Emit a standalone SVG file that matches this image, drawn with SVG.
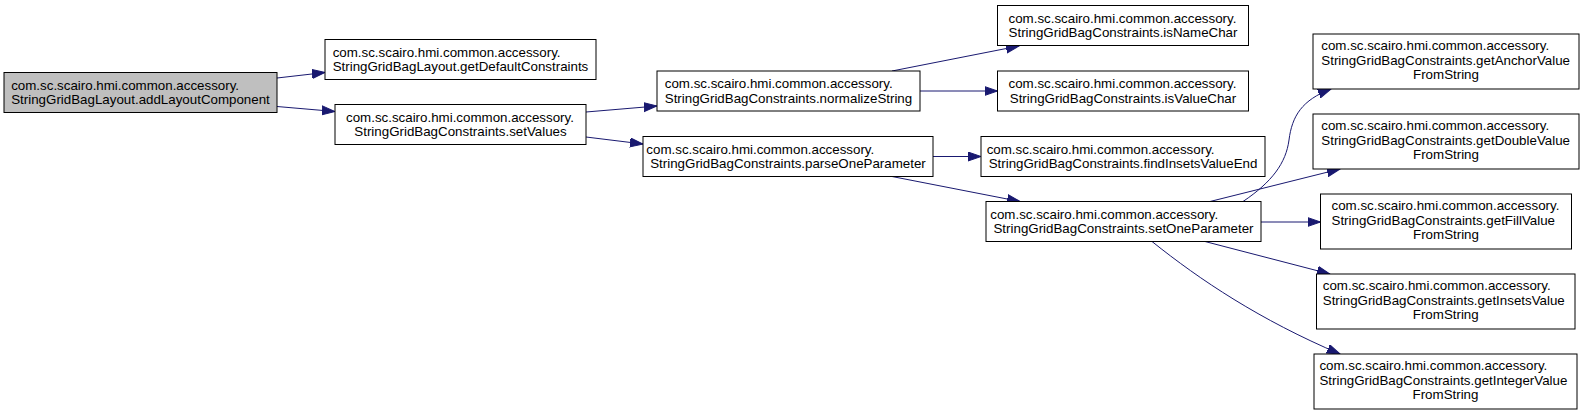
<svg xmlns="http://www.w3.org/2000/svg" width="1584" height="415" viewBox="0 0 1584 415">
<style>
  .node rect { fill: #ffffff; stroke: #000000; stroke-width: 1; }
  .root rect { fill: #bfbfbf; }
  .node text { font-family: "Liberation Sans", Arial, sans-serif; font-size: 13.33px; fill: #000000; }
  .c { text-anchor: middle; }
  .edge { fill: none; stroke: #191970; stroke-width: 1; marker-end: url(#arr); }
</style>
<defs>
  <marker id="arr" markerUnits="userSpaceOnUse" markerWidth="14" markerHeight="11" refX="13" refY="5" orient="auto">
    <path d="M0,0.5 L13,5 L0,9.5 Z" fill="#191970" stroke="#191970" stroke-width="1"/>
  </marker>
</defs>
<rect x="0" y="0" width="1584" height="415" fill="#ffffff"/>
<g id="edges">
  <path class="edge" d="M277,78 L325,72.5"/>
  <path class="edge" d="M277,106.5 L335,111.5"/>
  <path class="edge" d="M586,112 L657,106"/>
  <path class="edge" d="M586,137 L643,144"/>
  <path class="edge" d="M892,71 L1019,46"/>
  <path class="edge" d="M920,91 L997.5,91"/>
  <path class="edge" d="M933,156.5 L981,156.5"/>
  <path class="edge" d="M892,176.5 L1020,201.5"/>
  <path class="edge" d="M1243,201.5 C1272,182 1286,163 1289,140 C1292,116 1302,100 1331,89"/>
  <path class="edge" d="M1210,201.5 L1340,169"/>
  <path class="edge" d="M1261,222 L1320.5,222"/>
  <path class="edge" d="M1205,241.5 L1330,274"/>
  <path class="edge" d="M1152,241.5 C1200,280 1260,320 1340,354"/>
</g>
<g id="addLayoutComponent" class="node root">
  <rect x="4" y="72.5" width="273" height="40"/>
  <text x="11.2" y="89.5">com.sc.scairo.hmi.common.accessory.</text>
  <text class="c" x="140.5" y="104">StringGridBagLayout.addLayoutComponent</text>
</g>
<g id="getDefaultConstraints" class="node">
  <rect x="325" y="39.5" width="271" height="40"/>
  <text x="332.65" y="56.5">com.sc.scairo.hmi.common.accessory.</text>
  <text class="c" x="460.5" y="71">StringGridBagLayout.getDefaultConstraints</text>
</g>
<g id="setValues" class="node">
  <rect x="335" y="104.5" width="251" height="40"/>
  <text x="346" y="121.5">com.sc.scairo.hmi.common.accessory.</text>
  <text class="c" x="460.5" y="136">StringGridBagConstraints.setValues</text>
</g>
<g id="normalizeString" class="node">
  <rect x="657" y="71" width="263" height="40"/>
  <text x="664.75" y="88">com.sc.scairo.hmi.common.accessory.</text>
  <text class="c" x="788.5" y="102.5">StringGridBagConstraints.normalizeString</text>
</g>
<g id="parseOneParameter" class="node">
  <rect x="643" y="136.5" width="290" height="40"/>
  <text x="646.35" y="153.5">com.sc.scairo.hmi.common.accessory.</text>
  <text class="c" x="788" y="168">StringGridBagConstraints.parseOneParameter</text>
</g>
<g id="isNameChar" class="node">
  <rect x="997.5" y="5.5" width="251" height="40"/>
  <text x="1008.5" y="22.5">com.sc.scairo.hmi.common.accessory.</text>
  <text class="c" x="1123" y="37">StringGridBagConstraints.isNameChar</text>
</g>
<g id="isValueChar" class="node">
  <rect x="997.5" y="71" width="251" height="40"/>
  <text x="1008.5" y="88">com.sc.scairo.hmi.common.accessory.</text>
  <text class="c" x="1123" y="102.5">StringGridBagConstraints.isValueChar</text>
</g>
<g id="findInsetsValueEnd" class="node">
  <rect x="981" y="136.5" width="284" height="40"/>
  <text x="986.65" y="153.5">com.sc.scairo.hmi.common.accessory.</text>
  <text class="c" x="1123" y="168">StringGridBagConstraints.findInsetsValueEnd</text>
</g>
<g id="setOneParameter" class="node">
  <rect x="986" y="201.5" width="275" height="40"/>
  <text x="990.25" y="218.5">com.sc.scairo.hmi.common.accessory.</text>
  <text class="c" x="1123.5" y="233">StringGridBagConstraints.setOneParameter</text>
</g>
<g id="getAnchorValueFromString" class="node">
  <rect x="1313" y="34" width="266" height="55"/>
  <text x="1321.3" y="50">com.sc.scairo.hmi.common.accessory.</text>
  <text x="1321.3" y="64.5">StringGridBagConstraints.getAnchorValue</text>
  <text class="c" x="1446" y="79">FromString</text>
</g>
<g id="getDoubleValueFromString" class="node">
  <rect x="1313" y="114" width="266" height="55"/>
  <text x="1321.3" y="130">com.sc.scairo.hmi.common.accessory.</text>
  <text x="1321.3" y="144.5">StringGridBagConstraints.getDoubleValue</text>
  <text class="c" x="1446" y="159">FromString</text>
</g>
<g id="getFillValueFromString" class="node">
  <rect x="1320.5" y="194" width="251" height="55"/>
  <text x="1331.5" y="210">com.sc.scairo.hmi.common.accessory.</text>
  <text x="1331.5" y="224.5">StringGridBagConstraints.getFillValue</text>
  <text class="c" x="1446" y="239">FromString</text>
</g>
<g id="getInsetsValueFromString" class="node">
  <rect x="1316.5" y="274" width="258.5" height="55"/>
  <text x="1322.75" y="290">com.sc.scairo.hmi.common.accessory.</text>
  <text x="1322.75" y="304.5">StringGridBagConstraints.getInsetsValue</text>
  <text class="c" x="1445.75" y="319">FromString</text>
</g>
<g id="getIntegerValueFromString" class="node">
  <rect x="1314" y="354" width="263" height="55"/>
  <text x="1319.4" y="370">com.sc.scairo.hmi.common.accessory.</text>
  <text x="1319.4" y="384.5">StringGridBagConstraints.getIntegerValue</text>
  <text class="c" x="1445.5" y="399">FromString</text>
</g>
</svg>
